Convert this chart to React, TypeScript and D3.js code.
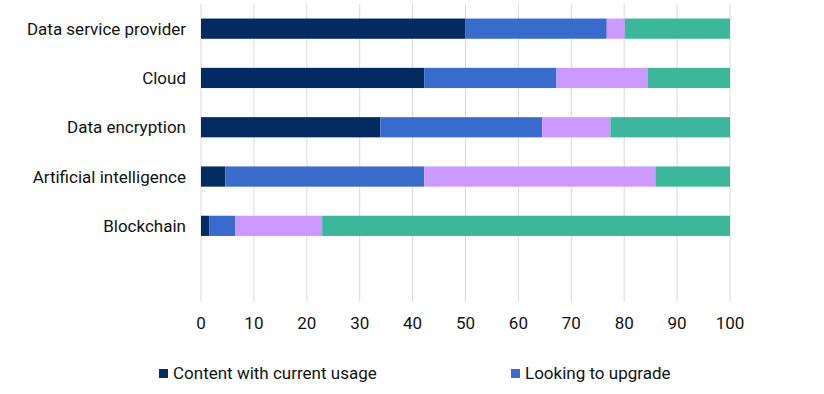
import React from 'react';
import * as d3 from 'd3';

const categories = ['Data service provider', 'Cloud', 'Data encryption', 'Artificial intelligence', 'Blockchain'];
const seriesNames = ['Content with current usage', 'Looking to upgrade', 'Planning to adopt', 'No plans'];
const contentValues = [50, 42.2, 33.9, 4.6, 1.6];
const upgradeValues = [26.7, 25.0, 30.6, 37.6, 4.9];
const planValues = [3.4, 17.2, 12.9, 43.7, 16.4];
const noPlanValues = [19.9, 15.6, 22.6, 14.1, 77.1];
const xTicks = [0, 10, 20, 30, 40, 50, 60, 70, 80, 90, 100];
const colors = ['#022B5F', '#386BCB', '#CC99FF', '#3CB79B'];
// the legend in the original only shows the first page
const legendShown = 2;

const App = () => {
    const width = 824;
    const height = 394;
    const left = 201;
    const right = 730;
    const top = 4;
    const gridBottom = 302;
    const font = 'Roboto, "Noto Sans", sans-serif';
    const fontSize = 17;

    const x = d3.scaleLinear().domain([0, 100]).range([left, right]);
    // six slots tall, the last one stays empty like in the original
    const y = d3.scaleBand().domain(categories).range([top, top + 5 * 49.3]).paddingInner(0.59).paddingOuter(0.295);

    const rows = categories.map((c, i) => ({
        category: c,
        s0: contentValues[i],
        s1: upgradeValues[i],
        s2: planValues[i],
        s3: noPlanValues[i],
    }));
    const stacked = d3.stack().keys(['s0', 's1', 's2', 's3'])(rows as any);

    return (
        <svg width={width} height={height} style={{ display: 'block', position: 'absolute', left: 0, top: 0 }}>
            <rect width={width} height={height} fill="#fff" />
            {xTicks.map(t => (
                <line key={t} x1={x(t)} x2={x(t)} y1={top} y2={gridBottom} stroke="#d9d9d9" strokeWidth={1} />
            ))}
            {stacked.map((layer, si) => (
                <g key={si} fill={colors[si]}>
                    {layer.map((d, i) => (
                        <rect
                            key={i}
                            x={x(d[0])}
                            y={y(categories[i])}
                            width={x(d[1]) - x(d[0])}
                            height={y.bandwidth()}
                        />
                    ))}
                </g>
            ))}
            {categories.map(c => (
                <text
                    key={c}
                    x={186}
                    y={(y(c) ?? 0) + y.bandwidth() / 2}
                    textAnchor="end"
                    dominantBaseline="central"
                    fontFamily={font}
                    fontSize={fontSize}
                    fill="#111"
                >
                    {c}
                </text>
            ))}
            {xTicks.map(t => (
                <text
                    key={t}
                    x={x(t)}
                    y={323}
                    textAnchor="middle"
                    dominantBaseline="central"
                    fontFamily={font}
                    fontSize={fontSize}
                    fill="#111"
                >
                    {t}
                </text>
            ))}
            {seriesNames.slice(0, legendShown).map((s, i) => {
                const lx = [159, 511][i];
                return (
                    <g key={s}>
                        <rect x={lx} y={369} width={9} height={9} fill={colors[i]} />
                        <text x={lx + 14} y={373} dominantBaseline="central" fontFamily={font} fontSize={fontSize} fill="#111">
                            {s}
                        </text>
                    </g>
                );
            })}
        </svg>
    );
};

export default App;
